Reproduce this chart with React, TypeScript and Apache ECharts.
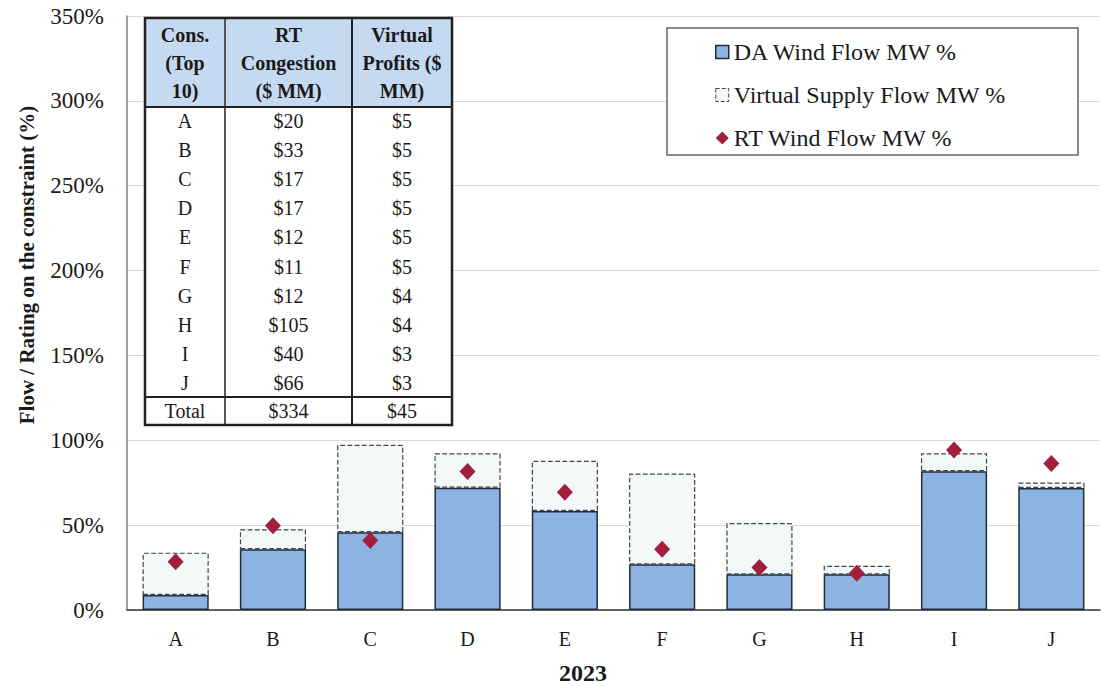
import React, { useEffect, useRef } from 'react';
import * as echarts from 'echarts';

const categories = ['A', 'B', 'C', 'D', 'E', 'F', 'G', 'H', 'I', 'J'];
const daWindFlow = [8.8, 35.8, 45.8, 72.1, 58.4, 26.9, 21.0, 21.0, 81.8, 71.9];
const virtualSupplyFlow = [25.0, 11.8, 51.5, 20.3, 29.5, 53.5, 30.3, 5.1, 10.6, 3.2];
const rtWindFlow = [28.5, 49.7, 40.9, 81.6, 69.4, 35.8, 25.0, 21.6, 94.3, 86.3];

const seriesNames = ['DA Wind Flow MW %', 'Virtual Supply Flow MW %', 'RT Wind Flow MW %'];
const yAxisTitle = 'Flow / Rating on the constraint (%)';
const xAxisTitle = '2023';

const tableHeader = [
  ['Cons.', '(Top', '10)'],
  ['RT', 'Congestion', '($ MM)'],
  ['Virtual', 'Profits ($', 'MM)'],
];
const tableCons = ['A', 'B', 'C', 'D', 'E', 'F', 'G', 'H', 'I', 'J'];
const tableRTCongestion = ['$20', '$33', '$17', '$17', '$12', '$11', '$12', '$105', '$40', '$66'];
const tableVirtualProfits = ['$5', '$5', '$5', '$5', '$5', '$5', '$4', '$4', '$3', '$3'];
const tableTotal = ['Total', '$334', '$45'];

const FONT = "'Liberation Serif', 'Times New Roman', serif";

function buildTable() {
  const x0 = 145, x1 = 225, x2 = 352, x3 = 452;
  const y0 = 18, yHead = 107, yTot = 397, yEnd = 425;
  const colCenters = [(x0 + x1) / 2, (x1 + x2) / 2, (x2 + x3) / 2];
  const els: any[] = [];
  els.push({ type: 'rect', shape: { x: x0, y: y0, width: x3 - x0, height: yEnd - y0 }, style: { fill: '#ffffff' }, z: 100 });
  els.push({ type: 'rect', shape: { x: x0, y: y0, width: x3 - x0, height: yHead - y0 }, style: { fill: '#C5D9F1' }, z: 101 });
  els.push({ type: 'line', shape: { x1: x1, y1: y0, x2: x1, y2: yEnd }, style: { stroke: '#555', lineWidth: 2 }, z: 102 });
  els.push({ type: 'line', shape: { x1: x2, y1: y0, x2: x2, y2: yEnd }, style: { stroke: '#222', lineWidth: 2 }, z: 102 });
  els.push({ type: 'line', shape: { x1: x0, y1: yHead, x2: x3, y2: yHead }, style: { stroke: '#222', lineWidth: 2 }, z: 102 });
  els.push({ type: 'line', shape: { x1: x0, y1: yTot, x2: x3, y2: yTot }, style: { stroke: '#222', lineWidth: 2 }, z: 102 });
  els.push({ type: 'rect', shape: { x: x0, y: y0, width: x3 - x0, height: yEnd - y0 }, style: { fill: 'none', stroke: '#222', lineWidth: 2.5 }, z: 103 });
  const headerYs = [35, 63, 91];
  tableHeader.forEach((lines, c) => {
    lines.forEach((t, r) => {
      els.push({
        type: 'text', x: colCenters[c], y: headerYs[r], z: 104,
        style: { text: t, fontSize: 20, fontWeight: 'bold', fontFamily: FONT, fill: '#1a1a1a', textAlign: 'center', textVerticalAlign: 'middle' },
      });
    });
  });
  const cols = [tableCons, tableRTCongestion, tableVirtualProfits];
  cols.forEach((col, c) => {
    col.forEach((t, r) => {
      els.push({
        type: 'text', x: colCenters[c], y: 121 + r * 29.1, z: 104,
        style: { text: t, fontSize: 20, fontFamily: FONT, fill: '#1a1a1a', textAlign: 'center', textVerticalAlign: 'middle' },
      });
    });
  });
  tableTotal.forEach((t, c) => {
    els.push({
      type: 'text', x: colCenters[c], y: 411, z: 104,
      style: { text: t, fontSize: 20, fontFamily: FONT, fill: '#1a1a1a', textAlign: 'center', textVerticalAlign: 'middle' },
    });
  });
  return els;
}

export default function App() {
  const ref = useRef<HTMLDivElement>(null);
  useEffect(() => {
    if (!ref.current) return;
    const chart = echarts.init(ref.current, undefined, { renderer: 'svg' });
    const option: any = {
      animation: false,
      backgroundColor: '#ffffff',
      grid: { left: 127, right: 1, top: 16, bottom: 76, containLabel: false },
      legend: {
        orient: 'vertical',
        left: 715,
        top: 39,
        padding: 0,
        itemGap: 17,
        itemWidth: 13,
        itemHeight: 13,
        z: 110,
        textStyle: { fontSize: 24, fontFamily: FONT, color: '#1a1a1a', lineHeight: 26 },
        data: [
          { name: seriesNames[0], icon: 'rect', itemStyle: { color: '#8DB3E2', borderColor: '#1F2D3D', borderWidth: 1.5 } },
          { name: seriesNames[1], icon: 'rect', itemStyle: { color: '#F3F8F8', borderColor: '#444', borderWidth: 1, borderType: 'dashed' } },
          { name: seriesNames[2], icon: 'diamond', itemStyle: { color: '#A11E3C', opacity: 1 } },
        ],
      },
      xAxis: {
        type: 'category',
        data: categories,
        axisTick: { show: false },
        axisLine: { lineStyle: { color: '#333', width: 1.5 } },
        axisLabel: { fontSize: 20, fontFamily: FONT, color: '#1a1a1a', margin: 19 },
      },
      yAxis: {
        type: 'value',
        min: 0,
        max: 350,
        interval: 50,
        axisLine: { show: true, lineStyle: { color: '#7f7f7f', width: 1.5 } },
        axisTick: { show: false },
        splitLine: { lineStyle: { color: '#D9D9D9', width: 1 } },
        axisLabel: { formatter: '{value}%', fontSize: 23, fontFamily: FONT, color: '#1a1a1a', margin: 23 },
      },
      series: [
        {
          name: seriesNames[0],
          type: 'bar',
          stack: 'flow',
          barWidth: '68%',
          data: daWindFlow,
          itemStyle: { color: '#8DB3E2', borderColor: '#1F2D3D', borderWidth: 1.5 },
          z: 2,
        },
        {
          name: seriesNames[1],
          type: 'bar',
          stack: 'flow',
          barWidth: '68%',
          data: virtualSupplyFlow,
          itemStyle: { color: '#F3F8F8', borderColor: '#444', borderWidth: 1.2, borderType: 'dashed' },
          z: 1,
        },
        {
          name: seriesNames[2],
          type: 'scatter',
          symbol: 'diamond',
          symbolSize: [16, 17],
          data: rtWindFlow,
          itemStyle: { color: '#A11E3C', opacity: 1 },
          z: 5,
        },
      ],
      graphic: [
        {
          type: 'group',
          children: [
            { type: 'rect', shape: { x: 667, y: 28, width: 411, height: 127 }, style: { fill: '#ffffff', stroke: '#666', lineWidth: 1.5 }, z: 90 },
          ],
        },
        { type: 'group', children: buildTable() },
        {
          type: 'text', x: 27, y: 265, rotation: Math.PI / 2, z: 100,
          style: { text: yAxisTitle, fontSize: 21, fontWeight: 'bold', fontFamily: FONT, fill: '#1a1a1a', textAlign: 'center', textVerticalAlign: 'middle' },
        },
        {
          type: 'text', x: 583, y: 673, z: 100,
          style: { text: xAxisTitle, fontSize: 24, fontWeight: 'bold', fontFamily: FONT, fill: '#1a1a1a', textAlign: 'center', textVerticalAlign: 'middle' },
        },
      ],
    };
    chart.setOption(option);
    return () => chart.dispose();
  }, []);
  return <div ref={ref} style={{ position: 'absolute', left: 0, top: 0, width: 1101, height: 686 }} />;
}
